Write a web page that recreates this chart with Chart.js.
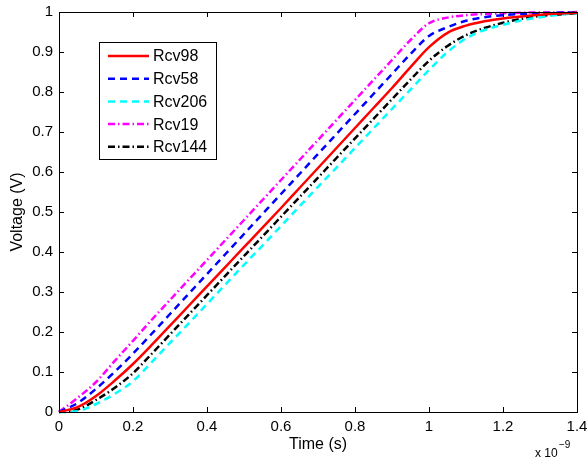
<!DOCTYPE html>
<html>
<head>
<meta charset="utf-8">
<script src="https://cdn.jsdelivr.net/npm/chart.js@4.4.1/dist/chart.umd.min.js"></script>
<style>
  html, body { margin: 0; padding: 0; background: #fff; }
</style>
</head>
<body>
<canvas id="myChart" width="588" height="466"></canvas>
<script>
// time in units of 1e-9 s
var times  = [0, 0.05, 0.1, 0.15, 0.2, 0.25, 0.3, 0.35, 0.4, 0.45, 0.5, 0.55, 0.6, 0.65, 0.7,
              0.75, 0.8, 0.85, 0.9, 0.95, 1.0, 1.05, 1.1, 1.15, 1.2, 1.25, 1.3, 1.35, 1.4];
var rcv98  = [0, 0.012, 0.04, 0.078, 0.12, 0.167, 0.216, 0.265, 0.314, 0.363, 0.412, 0.461, 0.51, 0.56, 0.61,
              0.66, 0.71, 0.76, 0.81, 0.862, 0.912, 0.948, 0.966, 0.977, 0.984, 0.989, 0.993, 0.996, 0.998];
var rcv58  = [0, 0.022, 0.058, 0.1, 0.146, 0.195, 0.245, 0.295, 0.345, 0.395, 0.445, 0.495, 0.545, 0.595, 0.645,
              0.695, 0.745, 0.795, 0.845, 0.895, 0.94, 0.962, 0.978, 0.987, 0.992, 0.995, 0.997, 0.998, 0.999];
var rcv206 = [0, 0.002, 0.02, 0.045, 0.077, 0.124, 0.173, 0.221, 0.27, 0.319, 0.368, 0.416, 0.465, 0.514, 0.563,
              0.611, 0.66, 0.709, 0.758, 0.806, 0.855, 0.9, 0.934, 0.955, 0.968, 0.979, 0.987, 0.993, 0.997];
var rcv19  = [0, 0.035, 0.075, 0.127, 0.178, 0.23, 0.28, 0.33, 0.38, 0.43, 0.48, 0.53, 0.58, 0.63, 0.68,
              0.73, 0.78, 0.83, 0.88, 0.93, 0.972, 0.986, 0.992, 0.995, 0.997, 0.998, 0.999, 0.999, 1.0];
var rcv144 = [0, 0.006, 0.03, 0.06, 0.097, 0.145, 0.194, 0.243, 0.292, 0.341, 0.39, 0.439, 0.488, 0.537, 0.586,
              0.635, 0.684, 0.733, 0.782, 0.831, 0.878, 0.915, 0.942, 0.96, 0.973, 0.983, 0.99, 0.994, 0.997];

var xTicks = [0, 0.2, 0.4, 0.6, 0.8, 1, 1.2, 1.4];
var yTicks = [0, 0.1, 0.2, 0.3, 0.4, 0.5, 0.6, 0.7, 0.8, 0.9, 1];

var FONT = "'Liberation Sans', Arial, Helvetica, sans-serif";
Chart.defaults.font.family = FONT;
Chart.defaults.color = '#000';

function pts(vals) {
  return times.map(function (t, i) { return { x: t, y: vals[i] }; });
}

function ds(label, vals, color, dash) {
  return {
    label: label,
    data: pts(vals),
    borderColor: color,
    backgroundColor: color,
    borderWidth: 2.5,
    borderDash: dash,
    pointRadius: 0,
    fill: false,
    cubicInterpolationMode: 'monotone',
    clip: false
  };
}

// box, inward ticks, exponent label, legend
var matlabAxes = {
  id: 'matlabAxes',
  afterDraw: function (chart) {
    var ctx = chart.ctx, a = chart.chartArea;
    var xs = chart.scales.x, ys = chart.scales.y;
    ctx.save();
    ctx.strokeStyle = '#000';
    ctx.lineWidth = 1;
    ctx.setLineDash([]);
    ctx.strokeRect(a.left + 0.5, a.top + 0.5, a.right - a.left, a.bottom - a.top);
    ctx.beginPath();
    xTicks.forEach(function (v) {
      var p = Math.round(xs.getPixelForValue(v)) + 0.5;
      ctx.moveTo(p, a.bottom); ctx.lineTo(p, a.bottom - 5);
      ctx.moveTo(p, a.top); ctx.lineTo(p, a.top + 5);
    });
    yTicks.forEach(function (v) {
      var p = Math.round(ys.getPixelForValue(v)) + 0.5;
      ctx.moveTo(a.left, p); ctx.lineTo(a.left + 5, p);
      ctx.moveTo(a.right, p); ctx.lineTo(a.right - 5, p);
    });
    ctx.stroke();

    // x 10^-9
    ctx.fillStyle = '#000';
    ctx.textBaseline = 'alphabetic';
    ctx.textAlign = 'left';
    ctx.font = '12px ' + FONT;
    ctx.fillText('x 10', 535, 457);
    ctx.font = '10px ' + FONT;
    ctx.fillText('\u22129', 559, 448);

    // legend
    var lx = 99, ly = 42, lw = 117, lh = 117;
    ctx.fillStyle = '#fff';
    ctx.fillRect(lx, ly, lw, lh);
    ctx.strokeRect(lx + 0.5, ly + 0.5, lw, lh);
    ctx.font = '16px ' + FONT;
    ctx.textBaseline = 'middle';
    chart.data.datasets.forEach(function (d, i) {
      var y = ly + 14 + i * 22.7;
      ctx.beginPath();
      ctx.strokeStyle = d.borderColor;
      ctx.lineWidth = 2.5;
      ctx.setLineDash(d.borderDash || []);
      ctx.moveTo(108, y); ctx.lineTo(149, y);
      ctx.stroke();
      ctx.setLineDash([]);
      ctx.fillStyle = '#000';
      ctx.fillText(d.label, 153, y + 1);
    });
    ctx.restore();
  }
};

var chart = new Chart('myChart', {
  type: 'line',
  data: {
    datasets: [
      ds('Rcv98', rcv98, '#ff0000', []),
      ds('Rcv58', rcv58, '#0000ff', [7, 5]),
      ds('Rcv206', rcv206, '#00ffff', [7, 5]),
      ds('Rcv19', rcv19, '#ff00ff', [7, 3, 1.5, 3]),
      ds('Rcv144', rcv144, '#000000', [7, 3, 1.5, 3])
    ]
  },
  options: {
    responsive: false,
    animation: false,
    devicePixelRatio: 1,
    layout: { padding: { top: 12, right: 0, left: 8, bottom: 12 } },
    plugins: {
      legend: { display: false },
      tooltip: { enabled: false }
    },
    scales: {
      x: {
        type: 'linear',
        min: 0, max: 1.4,
        afterFit: function (s) { s.height = 42; s.paddingLeft = 0; s.paddingRight = 11; },
        afterBuildTicks: function (s) { s.ticks = xTicks.map(function (v) { return { value: v }; }); },
        grid: { display: false, drawTicks: false },
        border: { display: false },
        ticks: {
          padding: 6,
          maxRotation: 0,
          font: { size: 15 },
          callback: function (v) { return String(Math.round(v * 10) / 10); }
        },
        title: { display: true, text: 'Time (s)', font: { size: 16 }, padding: { top: 0, bottom: 0 } }
      },
      y: {
        min: 0, max: 1,
        afterFit: function (s) { s.width = 51; s.paddingTop = 0; s.paddingBottom = 0; },
        afterBuildTicks: function (s) { s.ticks = yTicks.map(function (v) { return { value: v }; }); },
        grid: { display: false, drawTicks: false },
        border: { display: false },
        ticks: {
          padding: 6,
          font: { size: 15 },
          callback: function (v) { return String(Math.round(v * 10) / 10); }
        },
        title: { display: true, text: 'Voltage (V)', font: { size: 16 }, padding: { top: 0, bottom: 0 } }
      }
    }
  },
  plugins: [matlabAxes]
});
</script>
</body>
</html>
